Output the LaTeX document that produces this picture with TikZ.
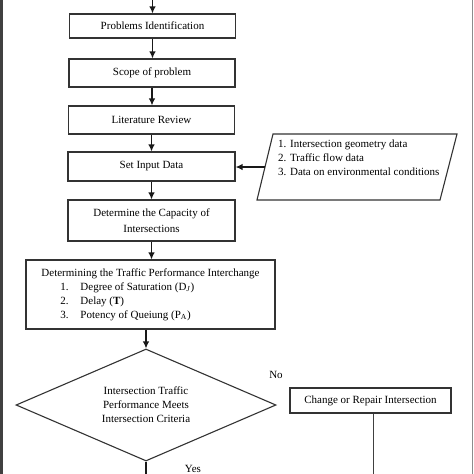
\documentclass[tikz,border=0pt]{standalone}
\usepackage{fontspec}
\setmainfont{Liberation Serif}
\usetikzlibrary{arrows.meta,shapes.geometric,calc}
\begin{document}
\begin{tikzpicture}[x=1pt,y=-1pt,
  boxline/.style={draw=black!80,line width=1.1pt},
  stepbox/.style={boxline,rectangle,inner sep=2pt,font=\fontsize{11}{14}\selectfont,align=center},
  arr/.style={line width=1.3pt,draw=black!90,-{Latex[length=7pt,width=6.5pt]}},
  plainline/.style={line width=1.1pt,draw=black!75},
  lbl/.style={font=\fontsize{11}{14}\selectfont,inner sep=0pt}]
\useasboundingbox (0,0) rectangle (474,474);
\clip (0,0) rectangle (474,474);
\fill[white] (0,0) rectangle (474,474);
% frame edges
\fill[black!75] (0,0) rectangle (3,474);
\draw[black!45,line width=0.8pt] (472.5,0) -- (472.5,474);

\node[stepbox,minimum width=166pt,minimum height=24pt] (pi) at (152.5,26) {Problems Identification};
\node[stepbox,minimum width=166pt,minimum height=28pt] (sp) at (152,73) {Scope of problem};
\node[stepbox,minimum width=166pt,minimum height=28pt] (lr) at (151.5,120) {Literature Review};
\node[stepbox,minimum width=167pt,minimum height=29pt] (sid) at (151.5,166.5) {Set Input Data};
\node[stepbox,minimum width=167pt,minimum height=41pt,font=\fontsize{11}{16.5}\selectfont] (dc) at (151.5,220.5) {Determine the Capacity of\\Intersections};
\node[stepbox,minimum width=249pt,minimum height=69pt,align=left] (tp) at (150.5,294.5)
 {Determining the Traffic Performance Interchange\\
  \hspace*{19pt}\makebox[20pt][l]{1.}Degree of Saturation (D\textsubscript{\textit{J}})\\
  \hspace*{19pt}\makebox[20pt][l]{2.}Delay (\textbf{T})\\
  \hspace*{19pt}\makebox[20pt][l]{3.}Potency of Queiung (P\textsubscript{A})};
\node[boxline,diamond,shape aspect=2.3,minimum width=260pt,minimum height=112pt,inner sep=0pt,
      font=\fontsize{11}{14}\selectfont,align=center] (dia) at (146,405)
 {Intersection Traffic\\Performance Meets\\Intersection Criteria};
\node[stepbox,minimum width=161pt,minimum height=25pt] (cr) at (370.5,400.5) {Change or Repair Intersection};

% input parallelogram
\draw[boxline] (273,134) coordinate (pa) -- (457,134) coordinate (pb) -- (440,200) coordinate (pc) -- (257,200) coordinate (pd) -- cycle;
\node[lbl,anchor=north west,align=left] (inp) at (278,140)
 {1. Intersection geometry data\\2. Traffic flow data\\3. Data on environmental conditions};
\coordinate (inpl) at ($(pa)!0.5!(pd)$);

% connectors
\coordinate (top) at (152.5,-2);
\draw[arr] (top) -- (pi.north);
\draw[arr] (pi.south) -- (pi.south |- sp.north);
\draw[arr] (sp.south) -- (sp.south |- lr.north);
\draw[arr] (lr.south) -- (lr.south |- sid.north);
\draw[arr] (sid.south) -- (sid.south |- dc.north);
\draw[arr] (dc.south) -- (dc.south |- tp.north);
\draw[arr] (dia.north |- tp.south) -- (dia.north);
\draw[arr] (inpl) -- (inpl -| sid.east);
\coordinate (bot) at (146,481);
\draw[arr] (dia.south) -- (bot);
\coordinate (crbot) at (373.5,480);
\draw[plainline] (cr.south -| crbot) -- (crbot);

\node[lbl] (no) at (276,375) {No};
\node[lbl,anchor=north] (yes) at (193,465) {Yes};
\end{tikzpicture}
\end{document}
